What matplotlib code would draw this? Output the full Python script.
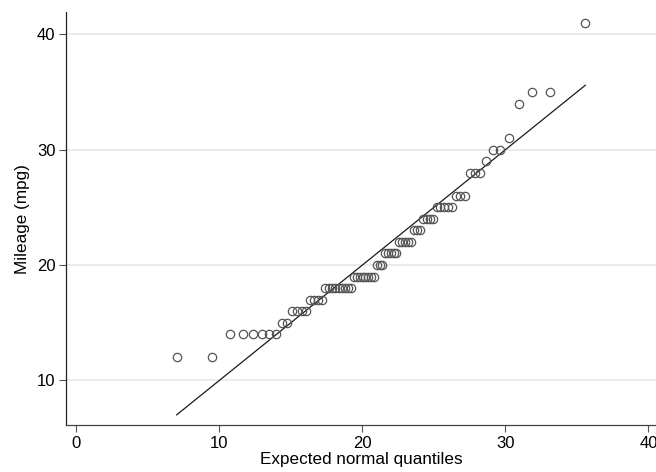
from statistics import NormalDist, mean, stdev
import numpy as np
import matplotlib
matplotlib.use('Agg')
import matplotlib.pyplot as plt

plt.rcParams['font.family'] = ['Liberation Sans', 'DejaVu Sans']

# mileage values (sorted) as seen on the y axis
mpg = [12, 12, 14, 14, 14, 14, 14, 14, 15, 15, 16, 16, 16, 16, 17, 17, 17, 17,
       18, 18, 18, 18, 18, 18, 18, 18, 18, 19, 19, 19, 19, 19, 19, 19, 19,
       20, 20, 20, 21, 21, 21, 21, 21, 22, 22, 22, 22, 22, 23, 23, 23,
       24, 24, 24, 24, 25, 25, 25, 25, 25, 26, 26, 26, 28, 28, 28, 29,
       30, 30, 31, 34, 35, 35, 41]
x_ticks = [0, 10, 20, 30, 40]
y_ticks = [10, 20, 30, 40]

# expected normal quantiles, plotting position (i-0.5)/n
n = len(mpg)
dist = NormalDist(mean(mpg), stdev(mpg))
xq = [dist.inv_cdf((i + 0.5) / n) for i in range(n)]

fig = plt.figure(figsize=(6.56, 4.72), dpi=100)
ax = fig.add_axes([0.1002, 0.0989, 0.8998, 0.875])

ax.set_axisbelow(True)
for v in y_ticks:
    ax.axhline(v, color='#e8e8e8', lw=1.2, zorder=0)

ax.plot([xq[0], xq[-1]], [xq[0], xq[-1]], color='#1a1a1a', lw=0.9, zorder=2)
ax.plot(xq, sorted(mpg), 'o', ms=6, mfc='none', mec='#555555', mew=0.9, zorder=3)

ax.set_xlim(-0.75, 40.53)
ax.set_ylim(6.10, 41.91)
ax.set_xticks(x_ticks)
ax.set_yticks(y_ticks)
ax.tick_params(direction='out', length=5, width=0.8, color='#555555',
               labelsize=12, pad=2.5)
for s in ['top', 'right']:
    ax.spines[s].set_visible(False)
ax.spines['left'].set_color('#222222')
ax.spines['bottom'].set_color('#444444')
ax.spines['left'].set_linewidth(0.9)
ax.spines['bottom'].set_linewidth(0.9)

ax.set_xlabel('Expected normal quantiles', fontsize=12.3, labelpad=1)
ax.set_ylabel('Mileage (mpg)', fontsize=12.3, labelpad=5)

fig.savefig('out.png', dpi=100)
